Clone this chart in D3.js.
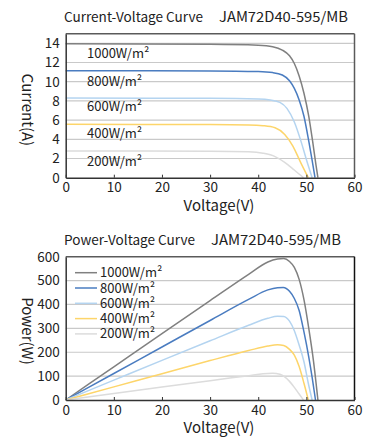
<!DOCTYPE html>
<html>
<head>
<meta charset="utf-8">
<script src="https://cdn.jsdelivr.net/npm/d3@7"></script>
<style>
  body { margin: 0; background: #fff; }
  svg text { font-family: "Noto Sans CJK SC", "Noto Sans", sans-serif; fill: #222; }
</style>
</head>
<body>
<svg id="chart"></svg>
<script>
var model = "JAM72D40-595/MB";
var irradiance = ["1000W/m²", "800W/m²", "600W/m²", "400W/m²", "200W/m²"];
var colors = ["#808080", "#4a7cc0", "#b4d4f0", "#fdd56a", "#dcdcdc"];
var xTicks = [0, 10, 20, 30, 40, 50, 60];
var currentTicks = [0, 2, 4, 6, 8, 10, 12, 14];
var powerTicks = [0, 100, 200, 300, 400, 500, 600];

// I-V points [voltage, current]
var iv1000 = [[0,13.95],[30,13.9],[40,13.8],[43,13.65],[45,13.3],[46.5,12.7],[47.5,11.9],[48.5,10.6],[49.5,8.8],[50.5,6.4],[51.3,3.8],[52,1.3],[52.4,0]];
var iv800 = [[0,11.15],[30,11.12],[40,11.05],[43,10.95],[45,10.7],[46.5,10.1],[47.5,9.3],[48.5,8.1],[49.5,6.4],[50.5,3.8],[51.2,1.8],[51.8,0]];
var iv600 = [[0,8.3],[30,8.27],[40,8.2],[42.5,8.1],[44.5,7.85],[46,7.2],[47.5,5.8],[49,3.6],[50,1.9],[51.2,0]];
var iv400 = [[0,5.56],[30,5.54],[38,5.5],[41,5.42],[43.5,5.2],[45.5,4.5],[47.2,3.3],[48.8,1.6],[50.4,0]];
var iv200 = [[0,2.78],[30,2.76],[38,2.7],[41,2.55],[43.5,2.2],[45.5,1.6],[47.5,0.8],[49.4,0]];

// P-V points [voltage, power]
var pv1000 = [[0,0],[10,139],[20,278],[30,416],[38,526],[42,578],[44,590],[45.3,592],[46.5,580],[47.5,555],[48.5,505],[49.5,420],[50.5,300],[51.5,160],[52.4,0]];
var pv800 = [[0,0],[10,111],[20,222],[30,333],[38,421],[42,461],[44,470],[45.2,471],[46.5,455],[47.5,425],[48.5,375],[49.5,285],[50.5,180],[51.2,95],[51.9,0]];
var pv600 = [[0,0],[10,83],[20,166],[30,248],[38,313],[42,342],[44,351],[45.3,350],[46.5,330],[47.5,290],[48.5,230],[49.5,160],[50.4,70],[51.2,0]];
var pv400 = [[0,0],[10,55],[20,110],[30,165],[38,207],[42,226],[44,231],[45.3,228],[46.5,212],[47.5,188],[48.5,140],[49.5,70],[50.4,0]];
var pv200 = [[0,0],[10,27],[20,54],[30,81],[38,102],[41,110],[43,112],[44.5,108],[45.5,97],[46.5,78],[47.5,53],[48.5,25],[49.4,0]];

var ivSeries = [iv1000, iv800, iv600, iv400, iv200];
var pvSeries = [pv1000, pv800, pv600, pv400, pv200];

var svg = d3.select("#chart").attr("width", 371).attr("height", 437);

function drawChart(opts) {
    var x = d3.scaleLinear().domain([0, 60]).range([65.7, 354.5]);
    var y = d3.scaleLinear().domain([0, opts.yMax]).range([opts.bottom, opts.top]);
    var g = svg.append("g");

    // grid
    g.selectAll(".grid").data(opts.yTicks.filter(d => d > 0 && d < opts.yMax))
        .enter().append("line")
        .attr("x1", x(0)).attr("x2", x(60))
        .attr("y1", d => y(d)).attr("y2", d => y(d))
        .attr("stroke", "#c9c9c9").attr("stroke-width", 1.2);

    // frame top and right
    g.append("line").attr("x1", x(0)).attr("x2", x(60))
        .attr("y1", y(opts.yMax)).attr("y2", y(opts.yMax))
        .attr("stroke", "#5a5a5a").attr("stroke-width", 1.5);
    g.append("line").attr("x1", x(60)).attr("x2", x(60))
        .attr("y1", y(opts.yMax)).attr("y2", y(0))
        .attr("stroke", opts.rightColor).attr("stroke-width", 1.5);

    // curves
    var line = d3.line().x(d => x(d[0])).y(d => y(d[1])).curve(d3.curveMonotoneX);
    g.selectAll(".curve").data(opts.series)
        .enter().append("path")
        .attr("d", line)
        .attr("fill", "none")
        .attr("stroke", (d, i) => colors[i])
        .attr("stroke-width", 1.5);

    // axes
    var xAxis = g.append("g")
        .attr("transform", "translate(0," + y(0) + ")")
        .call(d3.axisBottom(x).tickValues(xTicks).tickSizeInner(-3).tickSizeOuter(0).tickPadding(5));
    xAxis.select(".domain").attr("stroke", "#333").attr("stroke-width", 1.5);
    xAxis.selectAll(".tick line").attr("stroke", "#333");
    xAxis.selectAll("text").attr("font-size", 13.5).attr("fill", "#222")
        .attr("font-family", "'Noto Sans CJK SC', sans-serif");

    var yAxis = g.append("g")
        .attr("transform", "translate(" + x(0) + ",0)")
        .call(d3.axisLeft(y).tickValues(opts.yTicks).tickSize(0).tickPadding(6));
    yAxis.select(".domain").attr("stroke", "#333").attr("stroke-width", 1.5);
    yAxis.selectAll("text").attr("font-size", 13.5).attr("fill", "#222")
        .attr("font-family", "'Noto Sans CJK SC', sans-serif");

    // titles
    g.append("text").attr("x", 64).attr("y", opts.titleY)
        .attr("font-size", 13.5).attr("textLength", opts.titleLen).attr("lengthAdjust", "spacingAndGlyphs")
        .text(opts.title);
    g.append("text").attr("x", opts.modelX).attr("y", opts.titleY)
        .attr("font-size", 14).attr("textLength", opts.modelLen).attr("lengthAdjust", "spacingAndGlyphs")
        .text(model);

    g.append("text").attr("x", 219).attr("y", opts.xTitleY)
        .attr("text-anchor", "middle").attr("font-size", 15).text("Voltage(V)");
    g.append("text")
        .attr("transform", "translate(22," + opts.yTitleY + ") rotate(90)")
        .attr("text-anchor", "middle").attr("font-size", 15).text(opts.yTitle);
    return g;
}

var top1 = drawChart({
    yMax: 15, top: 33.7, bottom: 177.7, yTicks: currentTicks, series: ivSeries,
    rightColor: "#5a5a5a", title: "Current-Voltage Curve", titleLen: 139,
    modelX: 219, modelLen: 129, titleY: 22,
    xTitleY: 211, yTitle: "Current(A)", yTitleY: 110
});

// labels beside the I-V curves
var labelY = [58, 86, 111, 138, 166];
top1.selectAll(".ivlabel").data(irradiance)
    .enter().append("text")
    .attr("x", 87).attr("y", (d, i) => labelY[i])
    .attr("font-size", 13).text(d => d);

var bottom1 = drawChart({
    yMax: 600, top: 256.7, bottom: 400, yTicks: powerTicks, series: pvSeries,
    rightColor: "#111", title: "Power-Voltage Curve", titleLen: 131,
    modelX: 211, modelLen: 130, titleY: 245,
    xTitleY: 433, yTitle: "Power(W)", yTitleY: 331
});

// legend
var legend = bottom1.selectAll(".legend").data(irradiance)
    .enter().append("g")
    .attr("transform", (d, i) => "translate(75," + (272.7 + i * 15.3) + ")");
legend.append("line").attr("x1", 0).attr("x2", 22)
    .attr("stroke", (d, i) => colors[i]).attr("stroke-width", 1.5);
legend.append("text").attr("x", 25).attr("y", 4.5)
    .attr("font-size", 13).text(d => d);
</script>
</body>
</html>
